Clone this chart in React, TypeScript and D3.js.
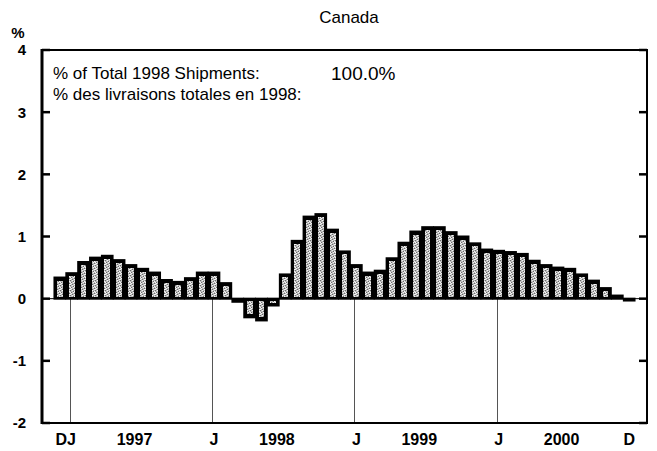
import React from "react";
import * as d3 from "d3";

// Monthly % change, Dec 1996 .. Dec 2000
const months: string[] = d3.range(49).map((i) => {
  const d = new Date(1996, 11 + i, 1);
  return `${d.getFullYear()}-${String(d.getMonth() + 1).padStart(2, "0")}`;
});
const values: number[] = [
  0.34,
  0.41, 0.59, 0.66, 0.69, 0.62, 0.54, 0.48, 0.42, 0.30, 0.27, 0.33, 0.42,
  0.42, 0.25, -0.05, -0.30, -0.35, -0.11, 0.39, 0.93, 1.32, 1.36, 1.11, 0.76,
  0.54, 0.42, 0.45, 0.65, 0.90, 1.08, 1.15, 1.15, 1.07, 1.00, 0.89, 0.79,
  0.77, 0.75, 0.72, 0.61, 0.54, 0.50, 0.48, 0.39, 0.29, 0.17, 0.05, -0.03,
];
const yTicks: number[] = [-2, -1, 0, 1, 2, 3, 4];
const xLabelText: string[] = ["DJ", "1997", "J", "1998", "J", "1999", "J", "2000", "D"];
const xLabelAt: number[] = [0.5, 6.3, 13, 18.3, 25, 30.3, 37, 42.3, 48];
const yearStarts: number[] = [1, 13, 25, 37];
const title = "Canada";
const infoLine1 = "% of Total 1998 Shipments:";
const infoLine2 = "% des livraisons totales en 1998:";
const infoValue = "100.0%";

const W = 657;
const H = 451;
const left = 42, right = 647, top = 50, bottom = 423;
const FONT = "'Liberation Sans', Arial, Helvetica, sans-serif";

const darkDots: [number, number][] = [[0, 0], [3, 1], [1, 2], [4, 3], [2, 4]];
const lightDots: [number, number][] = [[2, 0], [4, 1], [0, 2], [3, 2], [1, 3], [0, 4], [4, 4]];

export default function App() {
  const x = d3.scaleBand<number>().domain(d3.range(-1, 50)).range([left, right]).padding(0);
  const bw = x.bandwidth();
  const cx = (i: number) => (x(Math.floor(i)) as number) + bw / 2 + (i - Math.floor(i)) * bw;
  const y = d3.scaleLinear().domain([-2, 4]).range([bottom, top]);
  const y0 = y(0);

  return (
    <svg width={W} height={H} style={{ position: "absolute", left: 0, top: 0, background: "#fff" }}>
      <defs>
        <pattern id="stip" width={5} height={5} patternUnits="userSpaceOnUse">
          <rect width={5} height={5} fill="#bdbdbd" />
          {darkDots.map(([a, b], k) => (
            <rect key={"d" + k} x={a} y={b} width={1} height={1} fill="#6a6a6a" />
          ))}
          {lightDots.map(([a, b], k) => (
            <rect key={"l" + k} x={a} y={b} width={1} height={1} fill="#f4f4f4" />
          ))}
        </pattern>
      </defs>
      <rect x={0} y={0} width={W} height={H} fill="#fff" />

      {/* year separators below zero */}
      {yearStarts.map((i) => (
        <line key={i} x1={Math.round(cx(i)) - 1.5} x2={Math.round(cx(i)) - 1.5} y1={y0} y2={bottom} stroke="#555" strokeWidth={1} />
      ))}

      {/* zero line */}
      <line x1={left} x2={right} y1={y0} y2={y0} stroke="#000" strokeWidth={1} />

      {/* bars */}
      {values.map((v, i) => {
        const bx = x(i) as number;
        const yv = y(v);
        const yt = Math.min(yv, y0) - 1;
        const yb = Math.max(yv, y0) + 1;
        let iy1: number, iy2: number;
        if (v >= 0) {
          iy1 = yv + 3;
          iy2 = y0 - 2;
        } else {
          iy1 = y0 + 2;
          iy2 = yv - 3;
        }
        const ih = iy2 - iy1;
        const ix1 = Math.round(bx + 3);
        const ix2 = Math.round(bx + bw - 3);
        return (
          <g key={months[i]}>
            <rect x={bx - 0.4} y={yt} width={bw + 0.8} height={yb - yt} fill="#000" />
            {ih > 0.5 && (
              <rect x={ix1} y={Math.round(iy1)} width={ix2 - ix1} height={Math.max(1, Math.round(iy2) - Math.round(iy1))} fill="url(#stip)" />
            )}
          </g>
        );
      })}

      {/* frame */}
      <rect x={left} y={top} width={right - left} height={bottom - top} fill="none" stroke="#000" strokeWidth={2} />
      <line x1={left} x2={left} y1={top - 1} y2={bottom + 1} stroke="#000" strokeWidth={3} />

      {/* ticks */}
      {yTicks.map((t) => (
        <g key={t}>
          <line x1={left} x2={left + 8} y1={y(t)} y2={y(t)} stroke="#000" strokeWidth={2.5} />
          <line x1={right - 8} x2={right} y1={y(t)} y2={y(t)} stroke="#000" strokeWidth={2.5} />
          <text x={26} y={y(t)} dy="0.36em" textAnchor="end" fontFamily={FONT} fontSize={15} fontWeight="bold">
            {t}
          </text>
        </g>
      ))}

      {/* x labels */}
      {xLabelText.map((s, k) => (
        <text key={k} x={cx(xLabelAt[k])} y={445} textAnchor="middle" fontFamily={FONT} fontSize={16} fontWeight="bold">
          {s}
        </text>
      ))}

      {/* titles */}
      <text x={349} y={23} textAnchor="middle" fontFamily={FONT} fontSize={17}>
        {title}
      </text>
      <text x={18} y={38} textAnchor="middle" fontFamily={FONT} fontSize={15} fontWeight="bold">
        %
      </text>
      <text x={53} y={79} fontFamily={FONT} fontSize={17}>
        {infoLine1}
      </text>
      <text x={53} y={100} fontFamily={FONT} fontSize={17}>
        {infoLine2}
      </text>
      <text x={331} y={80} fontFamily={FONT} fontSize={19}>
        {infoValue}
      </text>
    </svg>
  );
}
